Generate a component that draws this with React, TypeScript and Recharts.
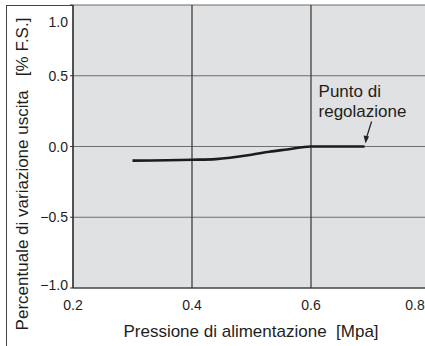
import {
  LineChart,
  Line,
  XAxis,
  YAxis,
  CartesianGrid,
  ReferenceDot,
  Label,
} from 'recharts';

// pressure [MPa] vs output change [% F.S.]
const pressure = [0.3, 0.4, 0.44, 0.5, 0.53, 0.56, 0.6, 0.69];
const outputChange = [-0.1, -0.094, -0.089, -0.058, -0.037, -0.021, 0, 0];

const xTicks = [0.2, 0.4, 0.6, 0.8];
const yTicks = [-1.0, -0.5, 0.0, 0.5, 1.0];

const setPoint = { x: 0.69, y: 0, label: ['Punto di', 'regolazione'] };

const FONT = '"Liberation Sans", Arial, Helvetica, sans-serif';

const chartData = pressure.map((p, i) => ({ p, v: outputChange[i] }));

const fmtY = (v: number) => (v < 0 ? '\u2212' : '') + Math.abs(v).toFixed(1);

const YTick = ({ x, y, payload }: any) => {
  // top and bottom labels sit slightly inside the frame
  let dy = 5;
  if (payload.value === 1) dy = 18;
  if (payload.value === -1) dy = 2;
  return (
    <text x={x} y={y + dy} textAnchor="end" fontSize={14} fill="#1e1e1e" fontFamily={FONT}>
      {fmtY(payload.value)}
    </text>
  );
};

const XTick = ({ x, y, payload }: any) => {
  const dx = payload.value === 0.8 ? -15 : 0;
  return (
    <text x={x + dx} y={y + 22} textAnchor="middle" fontSize={14} fill="#1e1e1e" fontFamily={FONT}>
      {payload.value.toFixed(1)}
    </text>
  );
};

const SetPointNote = ({ cx, cy }: any) => (
  <g>
    <text x={cx - 46} y={cy - 50} fontSize={17} fill="#1e1e1e" fontFamily={FONT}>
      {setPoint.label[0]}
    </text>
    <text x={cx - 46} y={cy - 30} fontSize={17} fill="#1e1e1e" fontFamily={FONT}>
      {setPoint.label[1]}
    </text>
    <line x1={cx + 7} y1={cy - 25} x2={cx + 2} y2={cy - 9} stroke="#222" strokeWidth={1.2} />
    <polygon
      points={`${cx + 1},${cy - 3} ${cx - 1},${cy - 11} ${cx + 4.5},${cy - 10}`}
      fill="#222"
    />
  </g>
);

export default function App() {
  return (
    <div
      style={{
        position: 'absolute',
        left: 0,
        top: 0,
        width: 425,
        height: 346,
        overflow: 'hidden',
        background: '#fff',
      }}
    >
      <div
        style={{
          position: 'absolute',
          left: 6,
          top: 5,
          width: 430,
          height: 350,
          borderLeft: '1px solid #444',
          borderTop: '1px solid #444',
        }}
      />
      <div style={{ position: 'absolute', left: 0, top: 0 }}>
        <LineChart
          width={440}
          height={346}
          data={chartData}
          margin={{ top: 5, right: 10, left: 0, bottom: 0 }}
        >
          <CartesianGrid
            fill="#e0e1e2"
            vertical={false}
            stroke="#6e6e6e"
            strokeWidth={1.2}
            horizontalValues={yTicks}
          />
          <CartesianGrid
            horizontal={false}
            stroke="#333"
            strokeWidth={1.2}
            verticalValues={xTicks}
          />
          <XAxis
            dataKey="p"
            type="number"
            domain={[0.2, 0.8]}
            ticks={xTicks}
            tick={<XTick />}
            tickLine={false}
            tickSize={0}
            tickMargin={0}
            height={58}
            axisLine={{ stroke: '#333', strokeWidth: 1.2 }}
          >
            <Label
              content={() => (
                <text
                  x={251}
                  y={337}
                  textAnchor="middle"
                  fontSize={17}
                  fill="#1e1e1e"
                  fontFamily={FONT}
                  xmlSpace="preserve"
                  style={{ whiteSpace: 'pre' }}
                >
                  {'Pressione di alimentazione  [Mpa]'}
                </text>
              )}
            />
          </XAxis>
          <YAxis
            type="number"
            domain={[-1, 1]}
            ticks={yTicks}
            tick={<YTick />}
            tickSize={3}
            tickMargin={2}
            width={73}
            tickLine={{ stroke: '#333' }}
            axisLine={{ stroke: '#333', strokeWidth: 1.2 }}
          >
            <Label
              content={() => (
                <text
                  x={28}
                  y={174}
                  textAnchor="middle"
                  fontSize={17}
                  fill="#1e1e1e"
                  fontFamily={FONT}
                  transform="rotate(-90, 28, 174)"
                  xmlSpace="preserve"
                  style={{ whiteSpace: 'pre' }}
                >
                  {'Percentuale di variazione uscita   [% F.S.]'}
                </text>
              )}
            />
          </YAxis>
          <Line
            type="monotone"
            dataKey="v"
            stroke="#1c1c1c"
            strokeWidth={2.6}
            dot={false}
            isAnimationActive={false}
          />
          <ReferenceDot
            x={setPoint.x}
            y={setPoint.y}
            r={0}
            shape={(props: any) => <SetPointNote {...props} />}
          />
        </LineChart>
      </div>
    </div>
  );
}
